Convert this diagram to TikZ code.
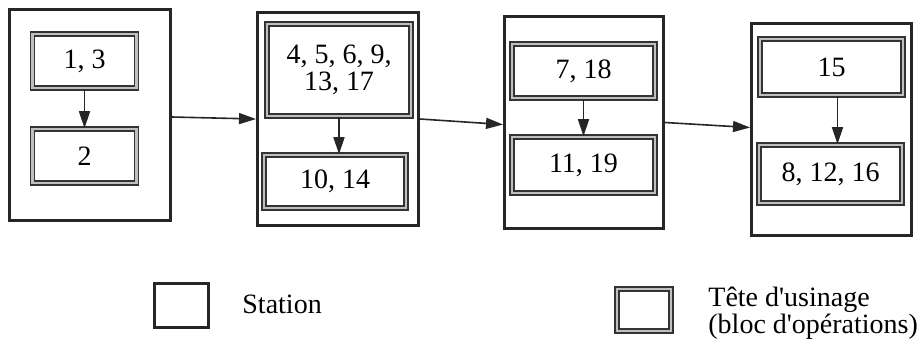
\documentclass[tikz,border=0pt]{standalone}
\usepackage{fontspec}
\setmainfont{Liberation Serif}
\usetikzlibrary{arrows.meta}

\begin{document}
\begin{tikzpicture}[x=0.5pt,y=-0.5pt]

  \tikzstyle{every node}=[font=\fontsize{14}{13.5}\selectfont, inner sep=0pt]
  \tikzstyle{station}=[draw=black!85, line width=1.3pt]
  \tikzstyle{tete}=[draw=black!80, line width=0.8pt, double=gray!50, double distance=1.1pt, align=center]
  \tikzstyle{flow}=[-{Triangle[length=8.5pt,width=5.5pt]}, line width=0.8pt, black!85]

  \useasboundingbox (0,0) rectangle (918,345);

  %%% Stations
  \node (s1) [station, minimum width=80.7pt, minimum height=105.7pt] at (90,115) {};
  \node (s2) [station, minimum width=80.7pt, minimum height=106.7pt] at (338,119) {};
  \node (s3) [station, minimum width=79.7pt, minimum height=106.2pt] at (584,122.5) {};
  \node (s4) [station, minimum width=80.2pt, minimum height=106.2pt] at (831.5,129.5) {};

  %%% Machining heads
  \node (a1) [tete, minimum width=52pt, minimum height=27pt] at (84.5,61) {1, 3};
  \node (b1) [tete, minimum width=52pt, minimum height=27pt] at (84.5,156) {2};
  \node (a2) [tete, minimum width=72pt, minimum height=46pt] at (339,70) {4, 5, 6, 9,\\13, 17};
  \node (b2) [tete, minimum width=71pt, minimum height=26.5pt] at (335,181.5) {10, 14};
  \node (a3) [tete, minimum width=71.5pt, minimum height=27pt] at (583.5,71) {7, 18};
  \node (b3) [tete, minimum width=71.5pt, minimum height=28pt] at (583.5,165) {11, 19};
  \node (a4) [tete, minimum width=71.5pt, minimum height=28pt] at (831.5,67) {15};
  \node (b4) [tete, minimum width=71.5pt, minimum height=29pt] at (830.5,174) {8, 12, 16};

  \draw [flow] (a1.south) -- (a1.south |- b1.north);
  \draw [flow] (a2.south) -- (a2.south |- b2.north);
  \draw [flow] (a3.south) -- (a3.south |- b3.north);
  \draw [flow] ([xshift=3pt]a4.south) -- ([xshift=3pt]a4.south |- b4.north);

  \draw [flow] ([yshift=-1pt]s1.east) -- (s2.west);
  \draw [flow] (s2.east) -- ([yshift=-1pt]s3.west);
  \draw [flow] (s3.east) -- ([yshift=1pt]s4.west);

  %%% Add key
  \node (ls) [station, minimum width=27.2pt, minimum height=22.2pt] at (181.5,305.5) {};
  \node (lstxt) [anchor=base west] at (242,313) {Station};
  \node (lt) [tete, minimum width=27pt, minimum height=21pt] at (644,310) {};
  \node (lttxt) [anchor=west, align=left] at (708,313) {T\^ete d\textquotesingle usinage\\(bloc d\textquotesingle op\'erations)};

\end{tikzpicture}
\end{document}
